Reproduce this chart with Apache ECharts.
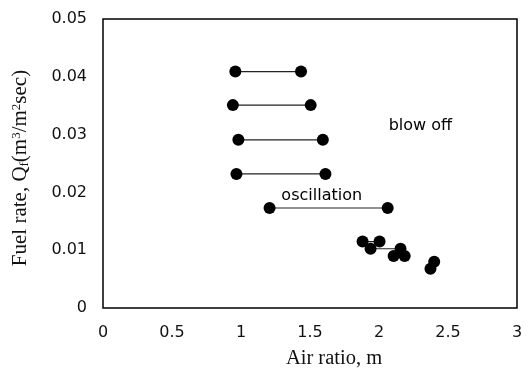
<!DOCTYPE html>
<html>
<head>
<meta charset="utf-8">
<script src="https://cdn.jsdelivr.net/npm/echarts@6/dist/echarts.min.js"></script>
<style>html,body{margin:0;padding:0;background:#fff;}#c{width:528px;height:374px;}</style>
</head>
<body>
<div id="c"></div>
<script>
// Each segment joins a left point (x1,y1) and a right point (x2,y2)
const segX1 = [0.959, 0.941, 0.981, 0.967, 1.207, 1.881, 1.939, 2.106, 2.373];
const segY1 = [0.0409, 0.0351, 0.0291, 0.0232, 0.0173, 0.0115, 0.01025, 0.0090, 0.0068];
const segX2 = [1.435, 1.505, 1.593, 1.612, 2.063, 2.004, 2.156, 2.186, 2.400];
const segY2 = [0.0409, 0.0351, 0.0291, 0.0232, 0.0173, 0.0115, 0.01025, 0.0090, 0.0080];
const xTicks = [0, 0.5, 1, 1.5, 2, 2.5, 3];
const yTicks = [0, 0.01, 0.02, 0.03, 0.04, 0.05];
const annoText = ['blow off', 'oscillation'];
const annoX = [2.30, 1.585];
const annoY = [0.0316, 0.0194];

const chart = echarts.init(document.getElementById('c'));
const series = segX1.map((x, i) => ({
  type: 'line',
  data: [[x, segY1[i]], [segX2[i], segY2[i]]],
  symbol: 'circle',
  symbolSize: 12,
  itemStyle: { color: '#000' },
  lineStyle: { color: '#222', width: 1.2 },
  silent: true,
  animation: false
}));
series.push({
  type: 'scatter',
  symbolSize: 0,
  itemStyle: { color: '#000', opacity: 1 },
  data: annoText.map((t, i) => ({ name: t, value: [annoX[i], annoY[i]] })),
  label: {
    show: true, position: 'inside', formatter: p => p.name, opacity: 1,
    color: '#000', textBorderWidth: 0, fontFamily: 'DejaVu Sans', fontSize: 16
  },
  silent: true,
  animation: false
});

const sansLabel = { color: '#111', fontFamily: 'DejaVu Sans', fontSize: 16 };
chart.setOption({
  animation: false,
  grid: { left: 103, right: 11, top: 19, bottom: 56, show: true, borderColor: '#000', borderWidth: 1.5 },
  xAxis: {
    type: 'value', min: xTicks[0], max: xTicks[xTicks.length - 1], interval: 0.5,
    axisLine: { show: false }, axisTick: { show: false }, splitLine: { show: false },
    axisLabel: Object.assign({ margin: 17, formatter: v => String(v) }, sansLabel),
    name: 'Air ratio, m', nameLocation: 'middle', nameGap: 40,
    nameTextStyle: { fontFamily: 'Liberation Serif', fontSize: 20.5, color: '#111', padding: [0, 0, 0, 48] }
  },
  yAxis: {
    type: 'value', min: yTicks[0], max: yTicks[yTicks.length - 1], interval: 0.01,
    axisLine: { show: false }, axisTick: { show: false }, splitLine: { show: false },
    axisLabel: Object.assign({ margin: 16, formatter: v => String(+v.toFixed(2)) }, sansLabel),
    name: 'Fuel rate, Q{sub|f}(m{sup|3}/m{sup|2}sec)',
    nameLocation: 'middle', nameGap: 72, nameRotate: 90,
    nameTextStyle: {
      fontFamily: 'Liberation Serif', fontSize: 21, color: '#111', padding: [0, 9, 0, 0],
      rich: {
        sub: { fontFamily: 'Liberation Serif', fontSize: 13, color: '#111', verticalAlign: 'bottom', padding: [7, 0, 0, 0] },
        sup: { fontFamily: 'Liberation Serif', fontSize: 13, color: '#111', verticalAlign: 'top', padding: [0, 0, 7, 0] }
      }
    }
  },
  series: series
});
</script>
</body>
</html>
